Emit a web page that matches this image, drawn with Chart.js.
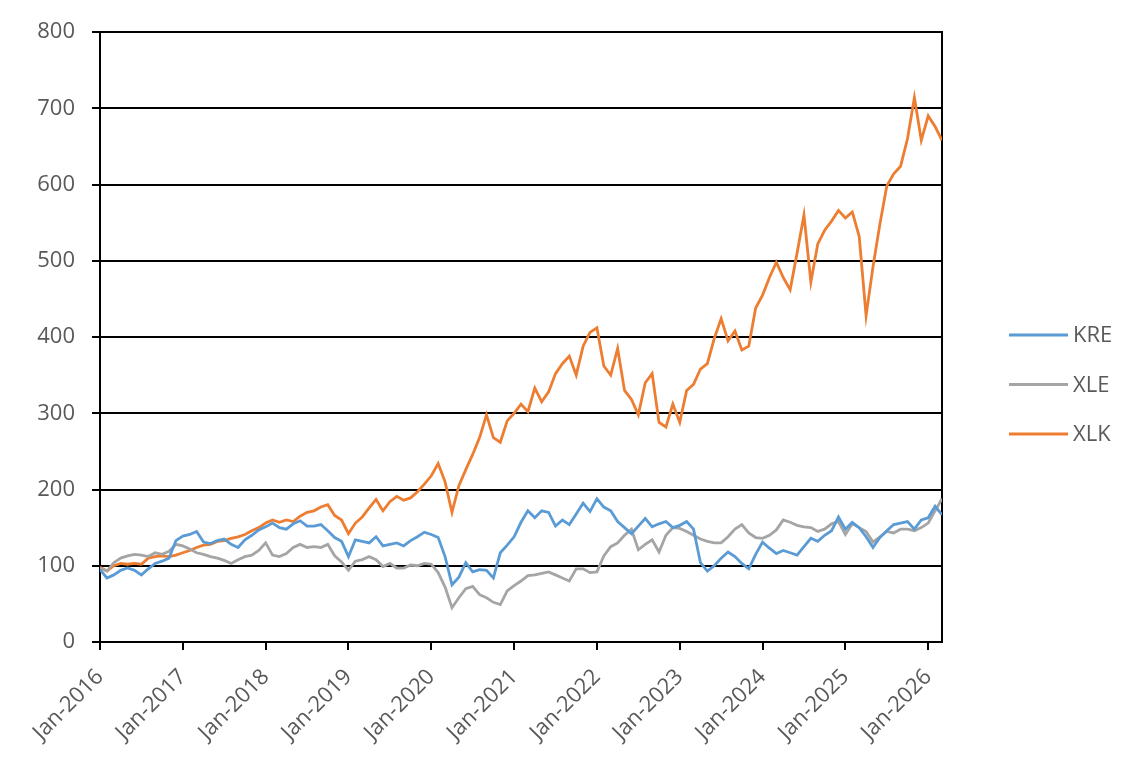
<!DOCTYPE html>
<html><head><meta charset="utf-8">
<script src="https://cdn.jsdelivr.net/npm/chart.js@4.4.1/dist/chart.umd.min.js"></script>
<style>html,body{margin:0;padding:0;background:#fff;overflow:hidden}canvas{display:block}</style>
</head><body>
<canvas id="c" width="1143" height="769"></canvas>
<script>
// One sample per month starting Jan-2016
const firstYear = 2016;
const yearTicks = [2016, 2017, 2018, 2019, 2020, 2021, 2022, 2023, 2024, 2025, 2026];
const seriesNames = ["KRE", "XLE", "XLK"];
const seriesColors = ["#5B9BD5", "#A5A5A5", "#ED7D31"];

const KRE = [
  95, 84, 88, 94, 97, 94, 88, 96, 103, 106, 110, 133,
  139, 141, 145, 131, 129, 133, 135, 128, 124, 134, 140, 147,
  151, 156, 150, 148, 155, 159, 152, 152, 154, 146, 137, 132,
  112, 134, 132, 130, 138, 126, 128, 130, 126, 133, 138, 144,
  141, 137, 112, 75, 85, 104, 92, 95, 94, 84, 117, 127,
  138, 157, 172, 163, 172, 170, 152, 160, 154, 168, 182, 171,
  188, 177, 172, 158, 150, 142, 152, 162, 151, 155, 158, 150,
  153, 158, 148, 104, 93, 100, 110, 118, 112, 103, 96, 115,
  131, 123, 116, 120, 117, 114, 125, 136, 132, 140, 146, 164,
  148, 157, 150, 138, 124, 137, 146, 154, 156, 158, 148, 160,
  163, 178, 167
];
const XLE = [
  97, 93, 104, 110, 113, 115, 114, 112, 117, 115, 119, 128,
  126, 122, 117, 115, 112, 110, 107, 103, 108, 112, 114, 120,
  130, 114, 112, 116, 124, 128, 124, 125, 124, 128, 113, 105,
  94, 106, 108, 112, 108, 99, 103, 97, 97, 101, 100, 103,
  102, 91, 72, 45, 58, 70, 73, 62, 58, 52, 49, 67,
  74, 80, 87, 88, 90, 92, 88, 84, 80, 96, 96, 91,
  92, 113, 125, 130, 140, 148, 121, 128, 134, 118, 140, 150,
  149, 145, 140, 135, 132, 130, 130, 138, 148, 154, 143, 137,
  136, 140, 147, 160, 157, 153, 151, 150, 145, 148, 155, 158,
  141, 155, 150, 145, 131, 138, 145, 143, 148, 148, 146, 150,
  156, 172, 188
];
const XLK = [
  98, 93, 100, 103, 102, 103, 102, 110, 112, 113, 112, 114,
  117, 120, 124, 127, 128, 132, 133, 136, 138, 141, 146, 150,
  156, 160, 157, 160, 158, 165, 170, 172, 177, 180, 166, 160,
  142, 156, 164, 176, 187, 172, 184, 191, 186, 189, 197, 207,
  218, 234, 210, 170, 205, 226, 246, 268, 298, 268, 262, 290,
  300, 312, 302, 333, 315, 328, 352, 365, 375, 350, 388, 406,
  412, 362, 350, 385, 330, 318, 298, 340, 352, 288, 282, 312,
  288, 330, 338, 358, 365, 398, 424, 395, 408, 383, 388, 438,
  455, 478, 498, 478, 462, 510, 560, 472, 522, 540, 552, 566,
  556, 564, 532, 428, 492, 548, 598, 614, 624, 660, 714, 658,
  690, 676, 658
];
const seriesValues = [KRE, XLE, XLK];

// x position = months elapsed since Jan of firstYear
const monthOffsets = KRE.map((_, i) => i);
const toPoints = vals => vals.map((v, i) => ({ x: monthOffsets[i], y: v }));

Chart.defaults.font.family = "'Open Sans', 'DejaVu Sans', sans-serif";
Chart.defaults.font.size = 22;
Chart.defaults.color = '#595959';

const sideLegend = {
  id: 'sideLegend',
  afterDraw(chart) {
    const ctx = chart.ctx;
    ctx.save();
    ctx.font = "22px 'Open Sans', sans-serif";
    ctx.textBaseline = 'middle';
    ctx.textAlign = 'left';
    chart.data.datasets.forEach((ds, i) => {
      const y = 335 + i * 49.5;
      ctx.strokeStyle = ds.borderColor;
      ctx.lineWidth = 2.8;
      ctx.beginPath();
      ctx.moveTo(1009, y);
      ctx.lineTo(1068, y);
      ctx.stroke();
      ctx.fillStyle = '#595959';
      ctx.fillText(ds.label, 1073, y + 1);
    });
    ctx.restore();
  }
};

new Chart(document.getElementById('c'), {
  type: 'line',
  data: {
    datasets: seriesNames.map((name, i) => ({
      label: name,
      data: toPoints(seriesValues[i]),
      borderColor: seriesColors[i],
      backgroundColor: seriesColors[i],
      borderWidth: 2.8,
      pointRadius: 0,
      tension: 0,
      fill: false
    }))
  },
  options: {
    responsive: false,
    animation: false,
    layout: { padding: { left: 0, right: 201, top: 32, bottom: 0 } },
    plugins: { legend: { display: false }, tooltip: { enabled: false } },
    scales: {
      x: {
        type: 'linear',
        min: 0,
        max: 122,
        afterBuildTicks: scale => { scale.ticks = yearTicks.map(y => ({ value: (y - firstYear) * 12 })); },
        afterFit: scale => { scale.height = 127; },
        ticks: {
          autoSkip: false,
          minRotation: 45,
          maxRotation: 45,
          padding: 14,
          color: '#595959',
          callback: v => 'Jan-' + (firstYear + Math.round(v / 12))
        },
        grid: { drawOnChartArea: false, drawTicks: true, tickLength: 8, color: '#000', lineWidth: 2 },
        border: { display: true, color: '#000', width: 2 }
      },
      y: {
        min: 0,
        max: 800,
        afterFit: scale => { scale.width = 100; },
        ticks: { stepSize: 100, padding: 17, color: '#595959' },
        grid: { color: '#000', lineWidth: 2, tickLength: 8, drawTicks: true },
        border: { display: true, color: '#000', width: 2 }
      },
      yRight: {
        position: 'right',
        min: 0,
        max: 800,
        afterFit: scale => { scale.width = 0; },
        ticks: { display: false },
        grid: { drawOnChartArea: false, drawTicks: false },
        border: { display: true, color: '#000', width: 2 }
      }
    }
  },
  plugins: [sideLegend]
});
</script>
</body></html>
